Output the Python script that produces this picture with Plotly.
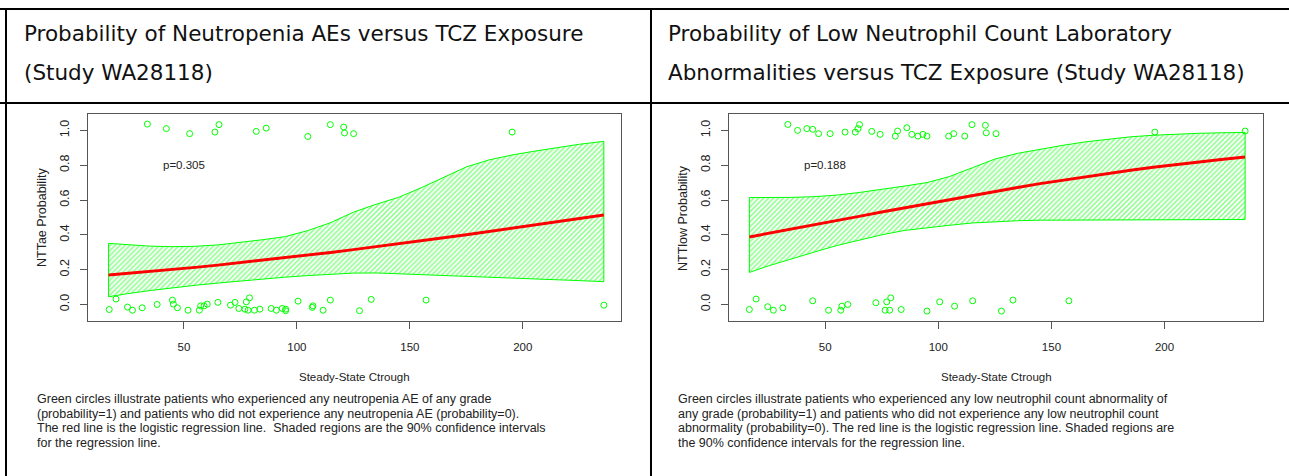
import plotly.graph_objects as go

# ---- panel text ----
left_title = ["Probability of Neutropenia AEs versus TCZ Exposure", "(Study WA28118)"]
right_title = ["Probability of Low Neutrophil Count Laboratory",
               "Abnormalities versus TCZ Exposure (Study WA28118)"]
left_ylabel = "NTTae Probability"
right_ylabel = "NTTlow Probability"
xlabel = "Steady-State Ctrough"
left_pval = "p=0.305"
right_pval = "p=0.188"
left_caption = ["Green circles illustrate patients who experienced any neutropenia AE of any grade",
                "(probability=1) and patients who did not experience any neutropenia AE (probability=0).",
                "The red line is the logistic regression line.  Shaded regions are the 90% confidence intervals",
                "for the regression line."]
right_caption = ["Green circles illustrate patients who experienced any low neutrophil count abnormality of",
                 "any grade (probability=1) and patients who did not experience any low neutrophil count",
                 "abnormality (probability=0). The red line is the logistic regression line. Shaded regions are",
                 "the 90% confidence intervals for the regression line."]
x_ticks = [50, 100, 150, 200]
y_ticks = [0.0, 0.2, 0.4, 0.6, 0.8, 1.0]
y_ticklabels = ["0.0", "0.2", "0.4", "0.6", "0.8", "1.0"]

# ---- neutropenia AE panel: observed patients (jittered around 0 / 1) ----
ae_x = [33.8, 42.2, 52.5, 63.7, 65.5, 82.0, 86.4, 104.8, 114.8, 120.7, 121.1, 125.1, 195.3,
        16.9, 19.9, 25.0, 27.2, 31.5, 38.1, 44.9, 45.3, 47.1, 51.8, 56.8, 57.4, 58.9, 60.3,
        65.0, 70.6, 72.6, 74.3, 77.0, 77.6, 79.0, 78.4, 81.2, 83.6, 88.6, 90.9, 93.5, 95.0,
        95.0, 100.5, 106.8, 107.1, 111.6, 114.8, 127.7, 132.9, 157.2, 235.9]
ae_y = [1.036, 1.010, 0.981, 0.990, 1.033, 0.994, 1.013, 0.965, 1.033, 1.019, 0.985, 0.981, 0.990,
        -0.029, 0.031, -0.015, -0.033, -0.019, 0.000, 0.025, 0.002, -0.019, -0.033, -0.033, -0.008, -0.008, 0.002,
        0.012, -0.004, 0.012, -0.023, -0.027, 0.015, 0.038, -0.033, -0.033, -0.027, -0.023, -0.033, -0.023, -0.036,
        -0.027, 0.019, -0.017, -0.008, -0.033, 0.025, -0.036, 0.029, 0.025, -0.004]

# fitted logistic curve and 90% band
ae_fit_x = [16.6, 25, 35, 45, 55, 65, 75, 85, 95, 105, 115, 125, 135, 145, 155, 165, 175,
            185, 195, 205, 215, 225, 235.9]
ae_fit = [0.169, 0.178, 0.189, 0.201, 0.213, 0.226, 0.240, 0.254, 0.268, 0.283, 0.299, 0.315,
          0.331, 0.348, 0.365, 0.383, 0.401, 0.419, 0.437, 0.456, 0.475, 0.494, 0.514]
ae_upper = [0.351, 0.342, 0.335, 0.332, 0.334, 0.342, 0.356, 0.372, 0.390, 0.425, 0.470, 0.530,
            0.575, 0.615, 0.670, 0.730, 0.790, 0.830, 0.858, 0.880, 0.902, 0.920, 0.937]
ae_lower = [0.044, 0.062, 0.080, 0.096, 0.110, 0.123, 0.135, 0.147, 0.157, 0.166, 0.175, 0.180,
            0.181, 0.178, 0.174, 0.167, 0.160, 0.155, 0.151, 0.147, 0.142, 0.137, 0.131]

# ---- low neutrophil count panel ----
low_x = [33.5, 37.8, 41.9, 44.5, 47.1, 52.2, 58.8, 63.3, 64.5, 65.2, 70.6, 74.3, 81.0, 82.0,
         86.1, 88.3, 91.0, 93.2, 95.0, 104.6, 106.8, 111.7, 114.9, 120.8, 121.2, 125.5, 195.7, 235.6,
         16.5, 19.5, 24.6, 27.1, 31.3, 44.5, 51.5, 56.9, 57.4, 60.0, 72.4, 77.2, 79.0, 76.5,
         78.5, 83.6, 95.0, 100.6, 107.2, 115.2, 127.9, 133.0, 157.7]
low_y = [1.034, 1.000, 1.010, 1.006, 0.981, 0.981, 0.990, 0.990, 1.010, 1.033, 0.994, 0.977, 0.967, 0.996,
         1.015, 0.977, 0.967, 0.977, 0.967, 0.967, 0.981, 0.967, 1.033, 1.029, 0.986, 0.981, 0.990, 0.996,
         -0.029, 0.031, -0.013, -0.033, -0.019, 0.021, -0.033, -0.033, -0.010, 0.000, 0.010, 0.015, 0.038, -0.033,
         -0.033, -0.029, -0.038, 0.015, -0.010, 0.021, -0.038, 0.025, 0.021]

low_fit_x = [16.5, 25, 35, 45, 55, 65, 75, 85, 95, 105, 115, 125, 135, 145, 155, 165, 175,
             185, 195, 205, 215, 225, 235.6]
low_fit = [0.388, 0.408, 0.432, 0.457, 0.481, 0.506, 0.531, 0.555, 0.580, 0.604, 0.627, 0.650,
           0.672, 0.694, 0.714, 0.734, 0.753, 0.771, 0.788, 0.804, 0.819, 0.833, 0.847]
low_upper = [0.614, 0.613, 0.615, 0.619, 0.628, 0.643, 0.660, 0.680, 0.700, 0.735, 0.785, 0.835,
             0.868, 0.892, 0.914, 0.934, 0.950, 0.963, 0.972, 0.979, 0.983, 0.986, 0.988]
low_lower = [0.184, 0.222, 0.262, 0.300, 0.338, 0.370, 0.400, 0.425, 0.440, 0.455, 0.468, 0.476,
             0.481, 0.484, 0.486, 0.487, 0.487, 0.487, 0.488, 0.488, 0.488, 0.488, 0.488]

# ---- page geometry (pixels) ----
W, H = 1289, 476
GREEN = "#00ff00"
AXIS_COL = "#555555"
TXT_COL = "#222222"
PLOT_FONT = "Liberation Sans, Arial, sans-serif"
TITLE_FONT = "DejaVu Sans, Verdana, sans-serif"


def px(x):
    return x / W


def py(y):
    return 1 - y / H


fig = go.Figure()

panels = [
    dict(xa="x", ya="y", pts=(ae_x, ae_y), fx=ae_fit_x, fit=ae_fit, up=ae_upper, lo=ae_lower),
    dict(xa="x2", ya="y2", pts=(low_x, low_y), fx=low_fit_x, fit=low_fit, up=low_upper, lo=low_lower),
]

for p in panels:
    band_x = list(p["fx"]) + list(reversed(p["fx"])) + [p["fx"][0]]
    band_y = list(p["up"]) + list(reversed(p["lo"])) + [p["up"][0]]
    fig.add_trace(go.Scatter(
        x=band_x, y=band_y, xaxis=p["xa"], yaxis=p["ya"], mode="lines",
        line=dict(color=GREEN, width=1), fill="toself", fillcolor="rgba(0,0,0,0)",
        fillpattern=dict(shape="/", fgcolor=GREEN, bgcolor="white", size=3.5, solidity=0.4),
        hoverinfo="skip", showlegend=False))
    fig.add_trace(go.Scatter(
        x=p["fx"], y=p["fit"], xaxis=p["xa"], yaxis=p["ya"], mode="lines",
        line=dict(color="#ff0000", width=3), showlegend=False))
    fig.add_trace(go.Scatter(
        x=p["pts"][0], y=p["pts"][1], xaxis=p["xa"], yaxis=p["ya"], mode="markers",
        marker=dict(symbol="circle-open", size=6, color=GREEN, line=dict(width=1, color=GREEN)),
        showlegend=False))

axis_common = dict(showline=True, mirror=True, linecolor=AXIS_COL, linewidth=1,
                   ticks="outside", ticklen=7, tickcolor=AXIS_COL, tickwidth=1,
                   showgrid=False, zeroline=False)
xfont = dict(family=PLOT_FONT, size=11.5, color=TXT_COL)
yfont = dict(family=PLOT_FONT, size=12.5, color=TXT_COL)
xr = [7.5, 243.5]
yr = [-0.095, 1.094]

fig.update_layout(
    width=W, height=H, margin=dict(l=0, r=0, t=0, b=0),
    paper_bgcolor="white", plot_bgcolor="white", showlegend=False,
    xaxis=dict(domain=[px(88), px(621)], range=xr, tickvals=x_ticks, anchor="y",
               ticklabelstandoff=8, tickfont=xfont, **axis_common),
    yaxis=dict(domain=[py(321), py(114)], range=yr, tickvals=y_ticks, ticktext=y_ticklabels,
               tickangle=-90, anchor="x", ticklabelstandoff=6, tickfont=yfont, **axis_common),
    xaxis2=dict(domain=[px(729), px(1263)], range=xr, tickvals=x_ticks, anchor="y2",
                ticklabelstandoff=8, tickfont=xfont, **axis_common),
    yaxis2=dict(domain=[py(321), py(114)], range=yr, tickvals=y_ticks, ticktext=y_ticklabels,
                tickangle=-90, anchor="x2", ticklabelstandoff=6, tickfont=yfont, **axis_common),
)

ann = []
# cell titles
for x0, lines in [(22, left_title), (666, right_title)]:
    for yy, t in zip([34, 72], lines):
        ann.append(dict(x=px(x0), y=py(yy), xref="paper", yref="paper", text=t,
                        showarrow=False, xanchor="left", yanchor="middle",
                        font=dict(family=TITLE_FONT, size=21.5, color="#111111")))
# axis titles, p-values, captions
for (xa, ya, x_left, x_right, ylab, pv, cap, cap_x) in [
        ("x", "y", 88, 621, left_ylabel, left_pval, left_caption, 35),
        ("x2", "y2", 729, 1263, right_ylabel, right_pval, right_caption, 676)]:
    ann.append(dict(x=px((x_left + x_right) / 2), y=py(377), xref="paper", yref="paper",
                    text=xlabel, showarrow=False, xanchor="center", yanchor="middle",
                    font=dict(family=PLOT_FONT, size=11.5, color=TXT_COL)))
    ann.append(dict(x=px(x_left - 46), y=py(218), xref="paper", yref="paper",
                    text=ylab, showarrow=False, textangle=-90, xanchor="center", yanchor="middle",
                    font=dict(family=PLOT_FONT, size=12.5, color=TXT_COL)))
    ann.append(dict(x=50, y=0.8, xref=xa, yref=ya, text=pv, showarrow=False,
                    xanchor="center", yanchor="middle",
                    font=dict(family=PLOT_FONT, size=11.5, color=TXT_COL)))
    for i, t in enumerate(cap):
        ann.append(dict(x=px(cap_x), y=py(399 + 14.6 * i), xref="paper", yref="paper",
                        text=t, showarrow=False, xanchor="left", yanchor="middle",
                        font=dict(family=PLOT_FONT, size=12.5, color=TXT_COL)))
fig.update_layout(annotations=ann)

# table rules around the two cells
shapes = []
for (x0, y0, x1, y1) in [(0, 9, W, 9), (0, 103, W, 103), (6, 9, 6, H), (651, 9, 651, H)]:
    shapes.append(dict(type="line", xref="paper", yref="paper",
                       x0=px(x0), y0=py(y0), x1=px(x1), y1=py(y1),
                       line=dict(color="black", width=2)))
fig.update_layout(shapes=shapes)

fig.write_html("out.html")
